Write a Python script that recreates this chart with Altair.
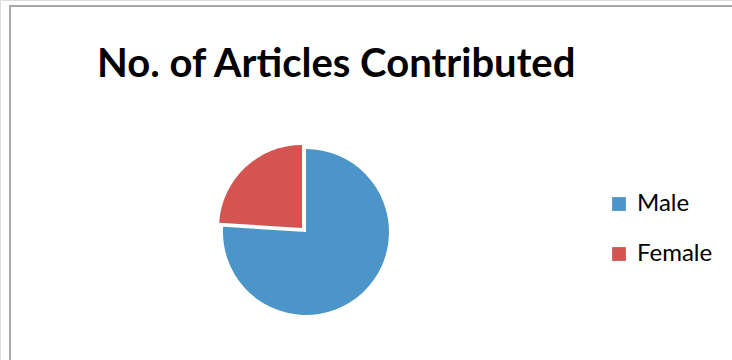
import altair as alt
import pandas as pd

# ---- data ----
categories = ["Male", "Female"]
values = [76, 24]
colors = ["#4b95c9", "#d35450"]

df = pd.DataFrame({"gender": categories, "count": values})
df["end"] = df["count"].cumsum()
df["start"] = df["end"] - df["count"]

W, H = 732, 360
CX, CY, R = 306, 232, 83
FONT = "Lato"

color = alt.Color(
    "gender:N",
    scale=alt.Scale(domain=categories, range=colors),
    sort=categories,
    legend=alt.Legend(
        title=None,
        orient="none",
        legendX=607,
        legendY=192,
        symbolType="square",
        symbolSize=190,
        symbolStrokeWidth=0,
        labelFont=FONT,
        labelFontSize=24,
        labelColor="#000000",
        rowPadding=26,
        labelOffset=6,
    ),
)

base = alt.Chart(df).encode(
    theta=alt.Theta("start:Q", scale=alt.Scale(domain=[0, sum(values)])),
    theta2="end:Q",
    color=color,
    x=alt.value(CX),
    y=alt.value(CY),
)

male = base.transform_filter(alt.datum.gender == "Male").mark_arc(outerRadius=R)
female = base.transform_filter(alt.datum.gender == "Female").mark_arc(
    outerRadius=R, xOffset=-4, yOffset=-4
)

border_data = alt.Data(values=[{"k": 1}])
top_rule = alt.Chart(border_data).mark_rule(color="#a8a8a8", strokeWidth=2).encode(
    x=alt.value(9), x2=alt.value(W), y=alt.value(6)
)
left_rule = alt.Chart(border_data).mark_rule(color="#a8a8a8", strokeWidth=2).encode(
    x=alt.value(10), y=alt.value(6), y2=alt.value(H)
)

chart = (
    alt.layer(top_rule, left_rule, male, female)
    .properties(
        width=W,
        height=H,
        autosize=alt.AutoSizeParams(type="none"),
        padding=0,
        title=alt.TitleParams(
            "No. of Articles Contributed",
            anchor="start",
            frame="group",
            orient="top",
            offset=0,
            baseline="alphabetic",
            dx=97,
            dy=117,
            font=FONT,
            fontSize=40,
            fontWeight="bold",
            color="#000000",
        ),
    )
    .configure_view(stroke=None)
    .configure(background="white")
)

chart.save("out.html", embed_options={"renderer": "svg", "actions": False})
